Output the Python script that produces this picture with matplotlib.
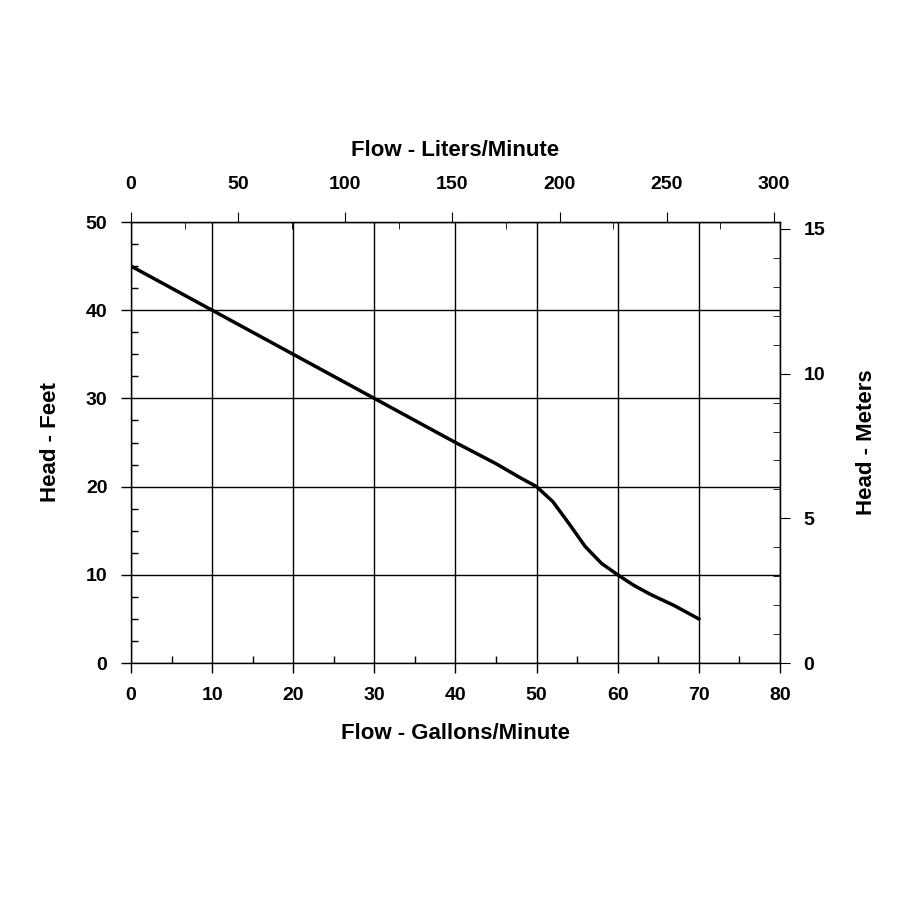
import matplotlib
matplotlib.use("Agg")
import matplotlib.pyplot as plt
from matplotlib.ticker import MultipleLocator

plt.rcParams['font.family'] = ['Liberation Sans', 'DejaVu Sans']
plt.rcParams['font.weight'] = 'bold'

flow_gpm = [0, 10, 20, 30, 40, 45, 48, 50, 52, 54, 56, 58, 60, 62, 64, 67, 70]
head_ft = [45, 40, 35, 30, 25, 22.6, 21.0, 20, 18.3, 15.8, 13.2, 11.3, 10, 8.8, 7.8, 6.5, 5]

fig = plt.figure(figsize=(9, 9), dpi=100)
ax = fig.add_axes([0.1456, 0.2633, 0.721, 0.49])
ax.plot(flow_gpm, head_ft, color='black', lw=2.5)
ax.set_xlim(0, 80); ax.set_ylim(0, 50)
ax.xaxis.set_major_locator(MultipleLocator(10))
ax.xaxis.set_minor_locator(MultipleLocator(5))
ax.yaxis.set_major_locator(MultipleLocator(10))
ax.yaxis.set_minor_locator(MultipleLocator(2.5))
ax.grid(True, which='major', color='black', lw=1)
ax.tick_params(which='major', direction='out', length=7, labelsize=14, width=1, pad=10)
ax.tick_params(which='minor', direction='in', length=5, width=1)
for s in ax.spines.values():
    s.set_linewidth(1)
ax.set_xlabel('Flow - Gallons/Minute', fontsize=16, fontweight='bold', labelpad=14)
ax.set_ylabel('Head - Feet', fontsize=16, fontweight='bold', labelpad=18)

top = ax.secondary_xaxis('top', functions=(lambda g: g * 3.785, lambda l: l / 3.785))
top.xaxis.set_major_locator(MultipleLocator(50))
top.xaxis.set_minor_locator(MultipleLocator(25))
top.tick_params(which='major', direction='out', length=7, labelsize=14, pad=14)
top.tick_params(which='minor', direction='in', length=5)
top.set_xlabel('Flow - Liters/Minute', fontsize=16, fontweight='bold', labelpad=14)

right = ax.secondary_yaxis('right', functions=(lambda f: f * 0.3048, lambda m: m / 0.3048))
right.yaxis.set_major_locator(MultipleLocator(5))
right.yaxis.set_minor_locator(MultipleLocator(1))
right.tick_params(which='major', direction='out', length=7, labelsize=14, pad=10)
right.tick_params(which='minor', direction='in', length=5)
right.set_ylabel('Head - Meters', fontsize=16, fontweight='bold', labelpad=22)

fig.savefig('out.png', dpi=100)
